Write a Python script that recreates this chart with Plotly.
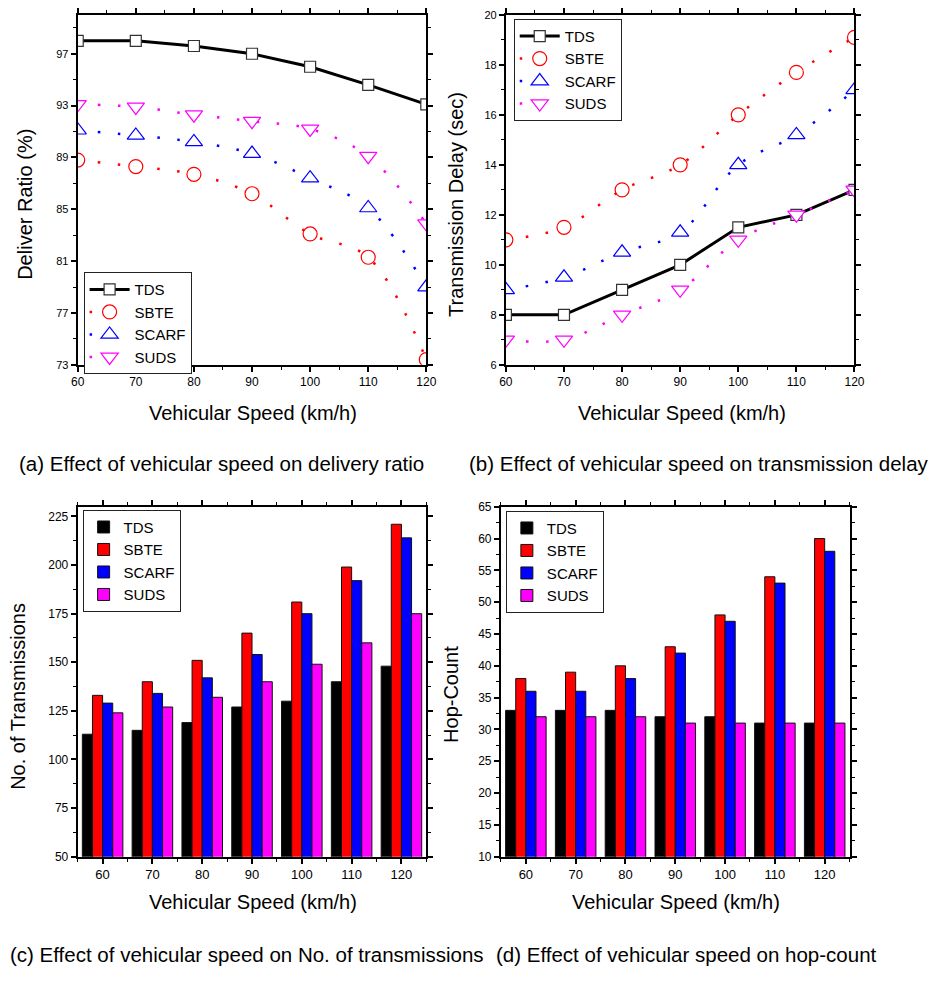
import plotly.graph_objects as go

# Vehicular speed (km/h)
speeds = [60, 70, 80, 90, 100, 110, 120]
scheme_names = ["TDS", "SBTE", "SCARF", "SUDS"]

# (a) Delivery ratio (%)
ratio_tds = [98.0, 98.0, 97.6, 97.0, 96.0, 94.6, 93.1]
ratio_sbte = [88.8, 88.3, 87.7, 86.2, 83.1, 81.3, 73.4]
ratio_scarf = [91.1, 90.7, 90.2, 89.3, 87.4, 85.1, 79.0]
ratio_suds = [93.1, 92.9, 92.3, 91.8, 91.2, 89.1, 83.9]

# (b) Transmission delay (sec)
delay_tds = [8, 8, 9, 10, 11.5, 12, 13]
delay_sbte = [11, 11.5, 13, 14, 16, 17.7, 19.1]
delay_scarf = [9, 9.5, 10.5, 11.3, 14, 15.2, 17]
delay_suds = [7, 7, 8, 9, 11, 12, 13]

# (c) Number of transmissions
trans_tds = [113, 115, 119, 127, 130, 140, 148]
trans_sbte = [133, 140, 151, 165, 181, 199, 221]
trans_scarf = [129, 134, 142, 154, 175, 192, 214]
trans_suds = [124, 127, 132, 140, 149, 160, 175]

# (d) Hop count
hops_tds = [33, 33, 33, 32, 32, 31, 31]
hops_sbte = [38, 39, 40, 43, 48, 54, 60]
hops_scarf = [36, 36, 38, 42, 47, 53, 58]
hops_suds = [32, 32, 32, 31, 31, 31, 31]

colors = {"TDS": "#000000", "SBTE": "#FF0000", "SCARF": "#0000FF", "SUDS": "#FF00FF"}
symbols = {"TDS": "square", "SBTE": "circle", "SCARF": "triangle-up", "SUDS": "triangle-down"}
msizes = {"TDS": 11, "SBTE": 14, "SCARF": 15, "SUDS": 15}

FONT = "Arial, Liberation Sans, sans-serif"
W, H = 946, 981


def px(x):
    return x / W


def py(y):
    return 1 - y / H


fig = go.Figure()


def add_lines(series, xa, ya, legend):
    for name, vals in zip(scheme_names, series):
        solid = name == "TDS"
        fig.add_trace(go.Scatter(
            x=speeds, y=vals, name=name, xaxis=xa, yaxis=ya, legend=legend,
            mode="lines+markers",
            line=dict(color=colors[name], width=3 if solid else 2.5,
                      dash="solid" if solid else "2.5px,17.5px",
                      shape="linear" if solid else "spline"),
            marker=dict(symbol=symbols[name], size=msizes[name], color="white",
                        line=dict(color="#333333" if solid else colors[name], width=1.2)),
        ))


def add_bars(series, xa, ya, legend):
    for name, vals in zip(scheme_names, series):
        fig.add_trace(go.Bar(
            x=speeds, y=vals, name=name, xaxis=xa, yaxis=ya, legend=legend,
            marker=dict(color=colors[name], line=dict(color="#111111", width=1)),
        ))


add_lines([ratio_tds, ratio_sbte, ratio_scarf, ratio_suds], "x", "y", "legend")
add_lines([delay_tds, delay_sbte, delay_scarf, delay_suds], "x2", "y2", "legend2")
add_bars([trans_tds, trans_sbte, trans_scarf, trans_suds], "x3", "y3", "legend3")
add_bars([hops_tds, hops_sbte, hops_scarf, hops_suds], "x4", "y4", "legend4")


def axis(domain, rng, tick0, dtick, mtick, size, anchor):
    return dict(
        domain=domain, range=rng, tick0=tick0, dtick=dtick, anchor=anchor,
        showline=True, linecolor="black", linewidth=2, mirror="ticks",
        ticks="outside", ticklen=5, tickwidth=1.5, tickcolor="black",
        showgrid=False, zeroline=False, fixedrange=True,
        tickfont=dict(family=FONT, size=size, color="black"),
        minor=dict(ticks="outside", ticklen=3, tickwidth=1.2, tickcolor="black",
                   tick0=tick0, dtick=mtick, showgrid=False),
    )


# subplot boxes in pixels: (left, right, top, bottom)
box_a = (72, 427, 8, 363)
box_b = (508, 863, 8, 363)
box_c = (72, 427, 507, 862)
box_d = (503, 858, 507, 862)


def xdom(b):
    return [px(b[0]), px(b[1])]


def ydom(b):
    return [py(b[3]), py(b[2])]


legend_style = dict(bgcolor="white", bordercolor="#222222", borderwidth=1,
                    font=dict(family=FONT, size=15, color="black"),
                    xanchor="left", yanchor="top", tracegroupgap=0)

fig.update_layout(
    width=W, height=H, autosize=False,
    margin=dict(l=0, r=0, t=0, b=0),
    paper_bgcolor="white", plot_bgcolor="white",
    font=dict(family=FONT, color="black"),
    barmode="group", bargap=0.186, bargroupgap=0,
    xaxis=axis(xdom(box_a), [60, 120], 60, 10, 5, 12, "y"),
    yaxis=axis(ydom(box_a), [73, 100], 73, 4, 2, 11, "x"),
    xaxis2=axis(xdom(box_b), [60, 120], 60, 10, 5, 12, "y2"),
    yaxis2=axis(ydom(box_b), [6, 20], 6, 2, 1, 11, "x2"),
    xaxis3=axis(xdom(box_c), [55, 125], 60, 10, 5, 13, "y3"),
    yaxis3=axis(ydom(box_c), [50, 230], 50, 25, 12.5, 12, "x3"),
    xaxis4=axis(xdom(box_d), [55, 125], 60, 10, 5, 13, "y4"),
    yaxis4=axis(ydom(box_d), [10, 65], 10, 5, 2.5, 12, "x4"),
    legend=dict(legend_style, x=px(78), y=py(269), itemwidth=40),
    legend2=dict(legend_style, x=px(516), y=py(12), itemwidth=40),
    legend3=dict(legend_style, x=px(77), y=py(510)),
    legend4=dict(legend_style, x=px(508), y=py(511)),
    showlegend=True,
)

annotations = [
    # axis titles
    ("Deliver Ratio (%)", 18, 200, -90),
    ("Transmission Delay (sec)", 457, 200, -90),
    ("No. of Transmissions", 11, 699, -90),
    ("Hop-Count", 452, 697, -90),
    ("Vehicular Speed (km/h)", 250, 412, 0),
    ("Vehicular Speed (km/h)", 687, 412, 0),
    ("Vehicular Speed (km/h)", 250, 908, 0),
    ("Vehicular Speed (km/h)", 681, 908, 0),
]
for text, x, y, ang in annotations:
    fig.add_annotation(text=text, x=px(x), y=py(y), xref="paper", yref="paper",
                       xanchor="center", yanchor="middle", showarrow=False,
                       textangle=ang, font=dict(family=FONT, size=20, color="black"))

captions = [
    ("(a) Effect of vehicular speed on delivery ratio", 10, 463),
    ("(b) Effect of vehicular speed on transmission delay", 468, 463),
    ("(c) Effect of vehicular speed on No. of transmissions", 1, 961),
    ("(d) Effect of vehicular speed on hop-count", 496, 961),
]
for text, x, y in captions:
    fig.add_annotation(text=text, x=px(x), y=py(y), xref="paper", yref="paper",
                       xanchor="left", yanchor="middle", showarrow=False,
                       font=dict(family=FONT, size=20.5, color="black"))

fig.write_html("out.html")
